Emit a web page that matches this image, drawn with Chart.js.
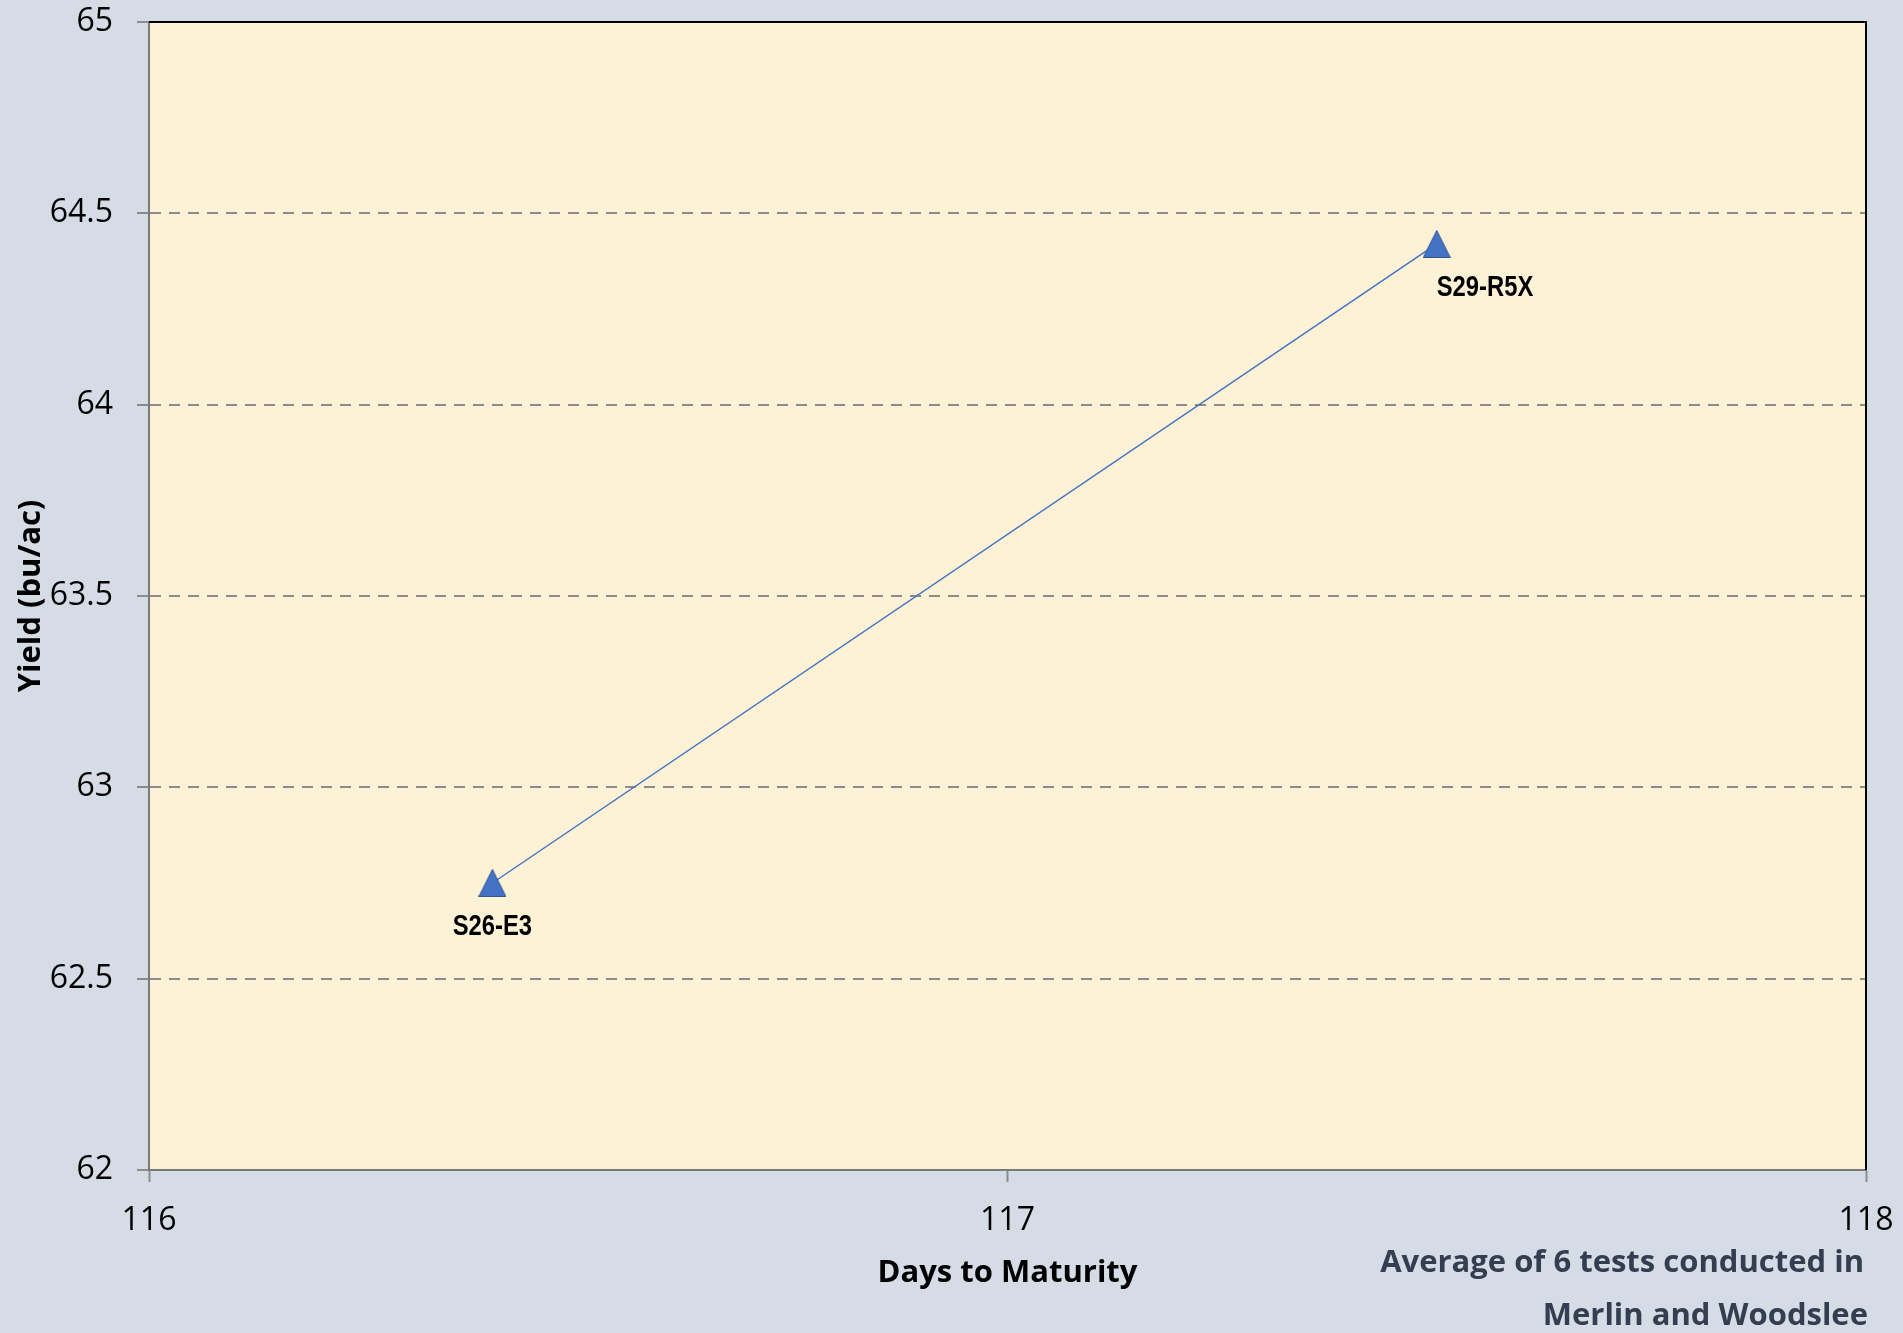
<!DOCTYPE html>
<html lang="en">
<head>
<meta charset="utf-8">
<title>Yield vs Days to Maturity</title>
<script src="https://cdn.jsdelivr.net/npm/chart.js@4.4.1/dist/chart.umd.min.js"></script>
<style>
  html, body { margin: 0; padding: 0; background: #d6dce5; }
  #wrap { width: 1903px; height: 1333px; position: relative; }
</style>
</head>
<body>
<div id="wrap"><canvas id="chart" width="1903" height="1333"></canvas></div>
<script>
// data
const varieties = ['S26-E3', 'S29-R5X'];
const daysToMaturity = [116.4, 117.5];
const yieldBuAc = [62.75, 64.42];
const xTicks = [116, 117, 118];
const yTicks = [62, 62.5, 63, 63.5, 64, 64.5, 65];
const footnote = ['Average of 6 tests conducted in', 'Merlin and Woodslee'];

const points = daysToMaturity.map((d, i) => ({ x: d, y: yieldBuAc[i] }));

// Excel-style triangle marker, centred on its bounding box
function makeMarker(size) {
  const c = document.createElement('canvas');
  c.width = size;
  c.height = size;
  const g = c.getContext('2d');
  g.beginPath();
  g.moveTo(0.5, size - 0.5);
  g.lineTo(size / 2, 0.5);
  g.lineTo(size - 0.5, size - 0.5);
  g.closePath();
  g.fillStyle = '#4472c4';
  g.fill();
  g.strokeStyle = '#2f5597';
  g.lineWidth = 1;
  g.stroke();
  return c;
}
const marker = makeMarker(28);

// plot background, frame, titles and point labels
const decor = {
  id: 'decor',
  beforeDraw(chart) {
    const { ctx, chartArea: a } = chart;
    ctx.save();
    ctx.fillStyle = '#fdf2d5';
    ctx.fillRect(a.left, a.top, a.right - a.left, a.bottom - a.top);
    ctx.restore();
  },
  afterDraw(chart) {
    const { ctx, chartArea: a } = chart;
    ctx.save();
    // top and right frame
    ctx.strokeStyle = '#000';
    ctx.lineWidth = 2;
    ctx.beginPath();
    ctx.moveTo(a.left, a.top);
    ctx.lineTo(a.right, a.top);
    ctx.lineTo(a.right, a.bottom);
    ctx.stroke();

    // axis titles
    ctx.fillStyle = '#000';
    ctx.font = 'bold 31px "Open Sans"';
    ctx.textAlign = 'center';
    ctx.textBaseline = 'middle';
    ctx.fillText('Days to Maturity', (a.left + a.right) / 2, 1273);
    ctx.save();
    ctx.translate(31, (a.top + a.bottom) / 2);
    ctx.rotate(-Math.PI / 2);
    ctx.fillText('Yield (bu/ac)', 0, 0);
    ctx.restore();

    // footnote
    ctx.fillStyle = '#333f50';
    ctx.textAlign = 'right';
    ctx.fillText(footnote[0], 1864, 1263);
    ctx.fillText(footnote[1], 1868, 1316);

    // point labels (narrowed bold sans)
    const meta = chart.getDatasetMeta(0);
    ctx.fillStyle = '#000';
    ctx.font = 'bold 29px "Liberation Sans"';
    meta.data.forEach((el, i) => {
      ctx.save();
      ctx.translate(el.x, el.y + 44);
      ctx.scale(0.82, 1);
      ctx.textAlign = i === 0 ? 'center' : 'left';
      ctx.fillText(varieties[i], 0, 0);
      ctx.restore();
    });
    ctx.restore();
  }
};

new Chart(document.getElementById('chart'), {
  type: 'scatter',
  data: {
    datasets: [{
      data: points,
      showLine: true,
      borderColor: '#4472c4',
      borderWidth: 1.5,
      backgroundColor: '#4472c4',
      pointStyle: marker,
      pointRadius: 14,
      pointHoverRadius: 14
    }]
  },
  options: {
    responsive: false,
    animation: false,
    layout: { padding: { left: 0, top: 22, right: 37, bottom: 0 } },
    plugins: { legend: { display: false }, tooltip: { enabled: false } },
    scales: {
      x: {
        type: 'linear',
        min: xTicks[0],
        max: xTicks[xTicks.length - 1],
        afterFit: s => { s.height = 163; s.paddingLeft = 0; s.paddingRight = 0; },
        afterBuildTicks: s => { s.ticks = xTicks.map(v => ({ value: v })); },
        ticks: {
          font: { family: 'Open Sans', size: 32 },
          color: '#000',
          padding: 20,
          callback: v => String(v)
        },
        grid: {
          drawOnChartArea: false,
          tickLength: 12,
          tickColor: '#8c8c8c',
          tickWidth: 2
        },
        border: { color: '#7a7a7a', width: 2 }
      },
      y: {
        type: 'linear',
        min: yTicks[0],
        max: yTicks[yTicks.length - 1],
        afterFit: s => { s.width = 149; s.paddingTop = 0; s.paddingBottom = 0; },
        afterBuildTicks: s => { s.ticks = yTicks.map(v => ({ value: v })); },
        ticks: {
          font: { family: 'Open Sans', size: 32 },
          color: '#000',
          padding: 24,
          callback: v => String(v)
        },
        grid: {
          color: c => (c.tick && c.tick.value === yTicks[0]) ? 'rgba(0,0,0,0)' : '#8c8c8c',
          lineWidth: 2,
          tickLength: 12,
          tickColor: '#8c8c8c',
          tickWidth: 2,
          tickBorderDash: []
        },
        border: { color: '#7a7a7a', width: 2, dash: [11, 8] }
      }
    }
  },
  plugins: [decor]
});
</script>
</body>
</html>
